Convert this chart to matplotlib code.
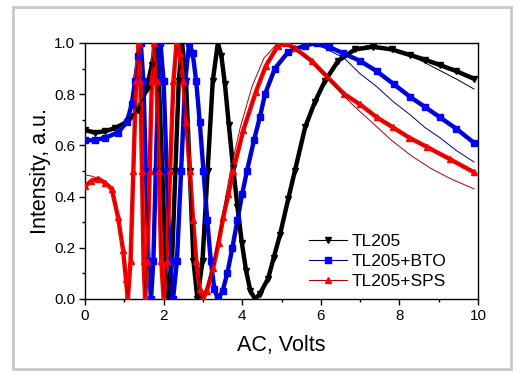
import matplotlib
matplotlib.use("Agg")
from matplotlib import pyplot as plt
from matplotlib.patches import Rectangle
from matplotlib.ticker import MultipleLocator

plt.rcParams["font.family"] = ["Liberation Sans", "DejaVu Sans"]

# measured curves (volts, normalised intensity)
v_tl205 = [0.0, 0.25, 0.5, 0.76, 1.1, 1.35, 1.57, 1.70, 1.80,
           1.88, 1.965, 2.05, 2.13, 2.215, 2.30, 2.385, 2.47,
           2.57, 2.665, 2.76, 2.86, 2.99, 3.12, 3.25, 3.38,
           3.47, 3.56, 3.66, 3.77, 3.88, 3.99, 4.10, 4.21, 4.33,
           4.45, 4.66, 4.80, 4.96, 5.17, 5.34, 5.6, 5.85, 6.1, 6.44,
           6.87, 7.33, 7.8, 8.27, 8.65, 9.03, 9.45, 9.9]
i_tl205 = [0.66, 0.65, 0.655, 0.667, 0.695, 0.74, 0.82, 0.915, 1.0,
           0.85, 0.5, 0.15, 0.0, 0.15, 0.5, 0.85, 1.0,
           0.85, 0.5, 0.15, 0.0, 0.15, 0.5, 0.85, 1.0,
           0.95, 0.84, 0.68, 0.51, 0.36, 0.22, 0.11, 0.03, 0.0,
           0.02, 0.08, 0.16, 0.25, 0.39, 0.5, 0.67, 0.77, 0.85, 0.93,
           0.975, 0.985, 0.975, 0.953, 0.935, 0.914, 0.89, 0.86]

v_bto = [0.0, 0.25, 0.51, 0.84, 1.06, 1.19, 1.27, 1.36, 1.42,
         1.485, 1.55, 1.615, 1.68, 1.74, 1.80, 1.86, 1.92,
         2.0, 2.08, 2.16, 2.24, 2.34, 2.445, 2.55, 2.65,
         2.74, 2.83, 2.92, 3.015, 3.11, 3.20, 3.29, 3.38,
         3.5, 3.62, 3.75, 3.88, 4.0, 4.12, 4.3, 4.45, 4.58, 4.83,
         5.17, 5.6, 5.9, 6.2, 6.57, 7.0, 7.42, 7.85, 8.27, 8.65,
         9.03, 9.45, 9.9]
i_bto = [0.62, 0.62, 0.63, 0.65, 0.69, 0.76, 0.85, 0.95, 1.0,
         0.85, 0.5, 0.15, 0.0, 0.15, 0.5, 0.85, 1.0,
         0.85, 0.5, 0.15, 0.0, 0.15, 0.5, 0.85, 1.0,
         0.96, 0.85, 0.69, 0.5, 0.31, 0.15, 0.04, 0.0,
         0.03, 0.1, 0.2, 0.31, 0.41, 0.5, 0.62, 0.71, 0.8, 0.9,
         0.965, 0.99, 1.0, 0.985, 0.96, 0.93, 0.89, 0.84, 0.79, 0.75,
         0.71, 0.665, 0.61]

v_sps = [0.0, 0.15, 0.33, 0.5, 0.68, 0.84, 0.97, 1.04, 1.09,
         1.16, 1.23, 1.30, 1.37, 1.41, 1.45, 1.49, 1.53,
         1.59, 1.645, 1.70, 1.76, 1.82, 1.88, 1.94, 2.0,
         2.08, 2.165, 2.25, 2.33, 2.41, 2.50, 2.58, 2.665,
         2.75, 2.83, 2.92, 3.0, 3.1, 3.26, 3.4, 3.52, 3.65, 3.77,
         4.03, 4.35, 4.6, 4.91, 5.09, 5.34, 5.77, 6.15, 6.6, 7.0,
         7.42, 7.84, 8.25, 8.69, 9.3, 9.9]
i_sps = [0.44, 0.46, 0.47, 0.455, 0.43, 0.32, 0.19, 0.08, 0.0,
         0.15, 0.5, 0.85, 1.0, 0.85, 0.5, 0.15, 0.0,
         0.15, 0.5, 0.85, 1.0, 0.85, 0.5, 0.15, 0.0,
         0.15, 0.5, 0.85, 1.0, 0.96, 0.85, 0.69, 0.5,
         0.31, 0.15, 0.04, 0.0, 0.03, 0.12, 0.22, 0.32, 0.41, 0.5,
         0.66, 0.81, 0.91, 0.99, 1.0, 0.98, 0.93, 0.87, 0.8, 0.76,
         0.71, 0.67, 0.63, 0.595, 0.545, 0.495]

# simulated curves (thin lines)
v_fit_tl205 = [5.6, 6.1, 6.5, 6.9, 7.2, 7.6, 8.0, 8.5, 9.0, 9.5, 9.9]
i_fit_tl205 = [0.67, 0.855, 0.935, 0.98, 0.99, 0.985, 0.965, 0.935, 0.895, 0.855, 0.82]

v_fit_bto = [3.35, 3.5, 3.7, 3.9, 4.1, 4.35, 4.6, 4.9, 5.3, 5.7, 6.1,
             6.6, 7.0, 7.42, 7.85, 8.27, 8.65, 9.03, 9.45, 9.9]
i_fit_bto = [0.0, 0.04, 0.15, 0.3, 0.47, 0.65, 0.8, 0.91, 0.98, 1.0, 0.98,
             0.94, 0.88, 0.83, 0.77, 0.72, 0.67, 0.63, 0.58, 0.535]

v_fit_sps = [2.95, 3.1, 3.3, 3.5, 3.7, 3.95, 4.25, 4.55, 4.9, 5.3, 5.8,
             6.3, 6.8, 7.3, 7.8, 8.3, 8.8, 9.3, 9.9]
i_fit_sps = [0.0, 0.05, 0.17, 0.33, 0.5, 0.67, 0.83, 0.94, 1.0, 0.98, 0.92,
             0.84, 0.76, 0.69, 0.62, 0.56, 0.51, 0.47, 0.43]
v_fit_sps_low = [0.0, 0.17, 0.35]
i_fit_sps_low = [0.485, 0.48, 0.47]

fig = plt.figure(figsize=(5.21, 3.83), dpi=100)
fig.patches.append(Rectangle((13 / 521, 1 - 369 / 383), 498 / 521, 362 / 383,
                             transform=fig.transFigure, fill=False,
                             edgecolor='#c8c8c8', linewidth=2))
ax = fig.add_axes([85 / 521, 1 - 299 / 383, 393 / 521, 256 / 383])

series = [
    (v_tl205, i_tl205, 'black', 'black', 'v', 'TL205'),
    (v_bto, i_bto, '#0000ff', '#000080', 's', 'TL205+BTO'),
    (v_sps, i_sps, '#ff0000', '#b00000', '^', 'TL205+SPS'),
]
for v, i, c, lc, m, lab in series:
    ax.plot(v, i, color=c, linewidth=3.2, solid_capstyle='round',
            solid_joinstyle='round', zorder=3)
    ax.plot(v, i, color=lc, linewidth=0.8, marker=m, markersize=4.5,
            markerfacecolor=c, markeredgecolor=c, label=lab, zorder=4)

ax.plot(v_fit_tl205, i_fit_tl205, color='black', linewidth=0.7, zorder=5)
ax.plot(v_fit_bto, i_fit_bto, color='#000080', linewidth=0.7, zorder=5)
ax.plot(v_fit_sps, i_fit_sps, color='#b00000', linewidth=0.7, zorder=5)
ax.plot(v_fit_sps_low, i_fit_sps_low, color='#b00000', linewidth=0.7, zorder=5)

ax.set_xlim(0, 10)
ax.set_ylim(0, 1.0)
ax.xaxis.set_major_locator(MultipleLocator(2))
ax.xaxis.set_minor_locator(MultipleLocator(1))
ax.yaxis.set_major_locator(MultipleLocator(0.2))
ax.yaxis.set_minor_locator(MultipleLocator(0.1))
ax.yaxis.set_major_formatter(plt.FuncFormatter(lambda y, _: '%.1f' % y))
ax.tick_params(which='major', direction='out', length=4, width=1,
               labelsize=11, pad=3)
ax.tick_params(which='minor', direction='out', length=2, width=1)
for s in ax.spines.values():
    s.set_linewidth(1)

ax.set_xlabel('AC, Volts', fontsize=15.5, labelpad=9)
ax.set_ylabel('Intensity, a.u.', fontsize=15.5, labelpad=2)

ax.legend(loc='lower right', bbox_to_anchor=(0.945, 0.0), frameon=False,
          fontsize=12.5, handlelength=2.2, handletextpad=0.3,
          labelspacing=0.3, borderaxespad=0.15)

plt.savefig('out.png', dpi=100)
